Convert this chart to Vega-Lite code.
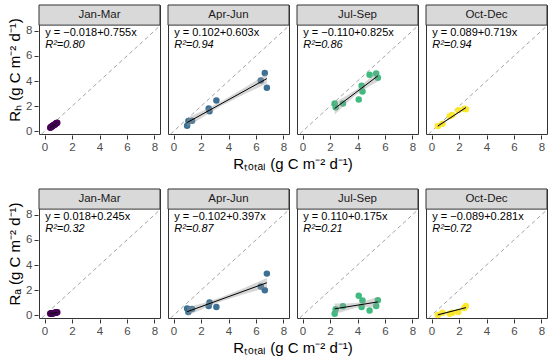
{
 "$schema": "https://vega.github.io/schema/vega-lite/v6.json",
 "padding": {"left": 7, "top": 4, "right": 2, "bottom": 0},
 "background": "white",
 "datasets": {"d": [
  {"r":"Rh","s":"Jan-Mar","k":"lab","eq":"y = −0.018+0.755x","r2":"R²=0.80"},
  {"r":"Rh","s":"Apr-Jun","k":"lab","eq":"y = 0.102+0.603x","r2":"R²=0.94"},
  {"r":"Rh","s":"Jul-Sep","k":"lab","eq":"y = −0.110+0.825x","r2":"R²=0.86"},
  {"r":"Rh","s":"Oct-Dec","k":"lab","eq":"y = 0.089+0.719x","r2":"R²=0.94"},
  {"r":"Ra","s":"Jan-Mar","k":"lab","eq":"y = 0.018+0.245x","r2":"R²=0.32"},
  {"r":"Ra","s":"Apr-Jun","k":"lab","eq":"y = −0.102+0.397x","r2":"R²=0.87"},
  {"r":"Ra","s":"Jul-Sep","k":"lab","eq":"y = 0.110+0.175x","r2":"R²=0.21"},
  {"r":"Ra","s":"Oct-Dec","k":"lab","eq":"y = −0.089+0.281x","r2":"R²=0.72"},

  {"r":"Rh","s":"Jan-Mar","k":"pt","x":0.42,"y":0.28},
  {"r":"Rh","s":"Jan-Mar","k":"pt","x":0.45,"y":0.33},
  {"r":"Rh","s":"Jan-Mar","k":"pt","x":0.48,"y":0.34},
  {"r":"Rh","s":"Jan-Mar","k":"pt","x":0.52,"y":0.38},
  {"r":"Rh","s":"Jan-Mar","k":"pt","x":0.55,"y":0.40},
  {"r":"Rh","s":"Jan-Mar","k":"pt","x":0.60,"y":0.44},
  {"r":"Rh","s":"Jan-Mar","k":"pt","x":0.64,"y":0.47},
  {"r":"Rh","s":"Jan-Mar","k":"pt","x":0.68,"y":0.50},
  {"r":"Rh","s":"Jan-Mar","k":"pt","x":0.72,"y":0.53},
  {"r":"Rh","s":"Jan-Mar","k":"pt","x":0.76,"y":0.55},
  {"r":"Rh","s":"Jan-Mar","k":"pt","x":0.80,"y":0.60},
  {"r":"Rh","s":"Jan-Mar","k":"pt","x":0.84,"y":0.62},
  {"r":"Rh","s":"Jan-Mar","k":"pt","x":0.88,"y":0.66},
  {"r":"Rh","s":"Jan-Mar","k":"pt","x":0.93,"y":0.69},
  {"r":"Ra","s":"Jan-Mar","k":"pt","x":0.42,"y":0.14},
  {"r":"Ra","s":"Jan-Mar","k":"pt","x":0.45,"y":0.12},
  {"r":"Ra","s":"Jan-Mar","k":"pt","x":0.48,"y":0.14},
  {"r":"Ra","s":"Jan-Mar","k":"pt","x":0.52,"y":0.14},
  {"r":"Ra","s":"Jan-Mar","k":"pt","x":0.55,"y":0.15},
  {"r":"Ra","s":"Jan-Mar","k":"pt","x":0.60,"y":0.16},
  {"r":"Ra","s":"Jan-Mar","k":"pt","x":0.64,"y":0.17},
  {"r":"Ra","s":"Jan-Mar","k":"pt","x":0.68,"y":0.18},
  {"r":"Ra","s":"Jan-Mar","k":"pt","x":0.72,"y":0.19},
  {"r":"Ra","s":"Jan-Mar","k":"pt","x":0.76,"y":0.21},
  {"r":"Ra","s":"Jan-Mar","k":"pt","x":0.80,"y":0.20},
  {"r":"Ra","s":"Jan-Mar","k":"pt","x":0.84,"y":0.22},
  {"r":"Ra","s":"Jan-Mar","k":"pt","x":0.88,"y":0.22},
  {"r":"Ra","s":"Jan-Mar","k":"pt","x":0.93,"y":0.24},

  {"r":"Rh","s":"Apr-Jun","k":"pt","x":0.99,"y":0.45},
  {"r":"Rh","s":"Apr-Jun","k":"pt","x":1.08,"y":0.82},
  {"r":"Rh","s":"Apr-Jun","k":"pt","x":1.35,"y":0.85},
  {"r":"Rh","s":"Apr-Jun","k":"pt","x":2.56,"y":1.81},
  {"r":"Rh","s":"Apr-Jun","k":"pt","x":2.62,"y":1.60},
  {"r":"Rh","s":"Apr-Jun","k":"pt","x":3.12,"y":2.45},
  {"r":"Rh","s":"Apr-Jun","k":"pt","x":6.35,"y":4.05},
  {"r":"Rh","s":"Apr-Jun","k":"pt","x":6.64,"y":4.64},
  {"r":"Rh","s":"Apr-Jun","k":"pt","x":6.79,"y":3.47},
  {"r":"Ra","s":"Apr-Jun","k":"pt","x":0.99,"y":0.54},
  {"r":"Ra","s":"Apr-Jun","k":"pt","x":1.08,"y":0.26},
  {"r":"Ra","s":"Apr-Jun","k":"pt","x":1.35,"y":0.50},
  {"r":"Ra","s":"Apr-Jun","k":"pt","x":2.56,"y":0.75},
  {"r":"Ra","s":"Apr-Jun","k":"pt","x":2.62,"y":1.02},
  {"r":"Ra","s":"Apr-Jun","k":"pt","x":3.12,"y":0.67},
  {"r":"Ra","s":"Apr-Jun","k":"pt","x":6.35,"y":2.30},
  {"r":"Ra","s":"Apr-Jun","k":"pt","x":6.64,"y":2.00},
  {"r":"Ra","s":"Apr-Jun","k":"pt","x":6.79,"y":3.32},

  {"r":"Rh","s":"Jul-Sep","k":"pt","x":2.34,"y":2.21},
  {"r":"Rh","s":"Jul-Sep","k":"pt","x":2.41,"y":1.92},
  {"r":"Rh","s":"Jul-Sep","k":"pt","x":2.94,"y":2.21},
  {"r":"Rh","s":"Jul-Sep","k":"pt","x":4.09,"y":2.53},
  {"r":"Rh","s":"Jul-Sep","k":"pt","x":4.30,"y":3.63},
  {"r":"Rh","s":"Jul-Sep","k":"pt","x":4.36,"y":3.17},
  {"r":"Rh","s":"Jul-Sep","k":"pt","x":4.88,"y":4.50},
  {"r":"Rh","s":"Jul-Sep","k":"pt","x":5.36,"y":4.61},
  {"r":"Rh","s":"Jul-Sep","k":"pt","x":5.48,"y":4.27},
  {"r":"Ra","s":"Jul-Sep","k":"pt","x":2.34,"y":0.13},
  {"r":"Ra","s":"Jul-Sep","k":"pt","x":2.41,"y":0.49},
  {"r":"Ra","s":"Jul-Sep","k":"pt","x":2.94,"y":0.73},
  {"r":"Ra","s":"Jul-Sep","k":"pt","x":4.09,"y":1.56},
  {"r":"Ra","s":"Jul-Sep","k":"pt","x":4.30,"y":0.67},
  {"r":"Ra","s":"Jul-Sep","k":"pt","x":4.36,"y":1.19},
  {"r":"Ra","s":"Jul-Sep","k":"pt","x":4.88,"y":0.38},
  {"r":"Ra","s":"Jul-Sep","k":"pt","x":5.36,"y":0.75},
  {"r":"Ra","s":"Jul-Sep","k":"pt","x":5.48,"y":1.21},

  {"r":"Rh","s":"Oct-Dec","k":"pt","x":0.46,"y":0.43},
  {"r":"Rh","s":"Oct-Dec","k":"pt","x":0.80,"y":0.60},
  {"r":"Rh","s":"Oct-Dec","k":"pt","x":1.33,"y":1.20},
  {"r":"Rh","s":"Oct-Dec","k":"pt","x":1.50,"y":1.30},
  {"r":"Rh","s":"Oct-Dec","k":"pt","x":1.95,"y":1.68},
  {"r":"Rh","s":"Oct-Dec","k":"pt","x":2.38,"y":1.79},
  {"r":"Rh","s":"Oct-Dec","k":"pt","x":2.50,"y":1.76},
  {"r":"Ra","s":"Oct-Dec","k":"pt","x":0.46,"y":0.03},
  {"r":"Ra","s":"Oct-Dec","k":"pt","x":0.80,"y":0.20},
  {"r":"Ra","s":"Oct-Dec","k":"pt","x":1.33,"y":0.13},
  {"r":"Ra","s":"Oct-Dec","k":"pt","x":1.50,"y":0.20},
  {"r":"Ra","s":"Oct-Dec","k":"pt","x":1.95,"y":0.27},
  {"r":"Ra","s":"Oct-Dec","k":"pt","x":2.38,"y":0.59},
  {"r":"Ra","s":"Oct-Dec","k":"pt","x":2.50,"y":0.74},

  {"r":"Rh","s":"Jan-Mar","k":"fit","x":0.42,"y":0.299},
  {"r":"Rh","s":"Jan-Mar","k":"fit","x":0.93,"y":0.684},
  {"r":"Rh","s":"Apr-Jun","k":"fit","x":0.99,"y":0.699},
  {"r":"Rh","s":"Apr-Jun","k":"fit","x":6.79,"y":4.196},
  {"r":"Rh","s":"Jul-Sep","k":"fit","x":2.34,"y":1.821},
  {"r":"Rh","s":"Jul-Sep","k":"fit","x":5.48,"y":4.411},
  {"r":"Rh","s":"Oct-Dec","k":"fit","x":0.46,"y":0.420},
  {"r":"Rh","s":"Oct-Dec","k":"fit","x":2.50,"y":1.887},
  {"r":"Ra","s":"Jan-Mar","k":"fit","x":0.42,"y":0.121},
  {"r":"Ra","s":"Jan-Mar","k":"fit","x":0.93,"y":0.246},
  {"r":"Ra","s":"Apr-Jun","k":"fit","x":0.99,"y":0.291},
  {"r":"Ra","s":"Apr-Jun","k":"fit","x":6.79,"y":2.594},
  {"r":"Ra","s":"Jul-Sep","k":"fit","x":2.34,"y":0.520},
  {"r":"Ra","s":"Jul-Sep","k":"fit","x":5.48,"y":1.069},
  {"r":"Ra","s":"Oct-Dec","k":"fit","x":0.46,"y":0.040},
  {"r":"Ra","s":"Oct-Dec","k":"fit","x":2.50,"y":0.614},

  {"r":"Rh","s":"Jan-Mar","k":"band","x":0.42,"lo":0.25,"hi":0.35},
  {"r":"Rh","s":"Jan-Mar","k":"band","x":0.68,"lo":0.47,"hi":0.52},
  {"r":"Rh","s":"Jan-Mar","k":"band","x":0.93,"lo":0.63,"hi":0.73},
  {"r":"Ra","s":"Jan-Mar","k":"band","x":0.42,"lo":0.09,"hi":0.15},
  {"r":"Ra","s":"Jan-Mar","k":"band","x":0.68,"lo":0.17,"hi":0.20},
  {"r":"Ra","s":"Jan-Mar","k":"band","x":0.93,"lo":0.22,"hi":0.28},
  {"r":"Rh","s":"Apr-Jun","k":"band","x":0.99,"lo":0.34,"hi":1.06},
  {"r":"Rh","s":"Apr-Jun","k":"band","x":2.2,"lo":1.19,"hi":1.67},
  {"r":"Rh","s":"Apr-Jun","k":"band","x":3.5,"lo":2.03,"hi":2.39},
  {"r":"Rh","s":"Apr-Jun","k":"band","x":5.1,"lo":2.93,"hi":3.43},
  {"r":"Rh","s":"Apr-Jun","k":"band","x":6.79,"lo":3.80,"hi":4.60},
  {"r":"Ra","s":"Apr-Jun","k":"band","x":0.99,"lo":-0.04,"hi":0.62},
  {"r":"Ra","s":"Apr-Jun","k":"band","x":2.2,"lo":0.55,"hi":0.99},
  {"r":"Ra","s":"Apr-Jun","k":"band","x":3.5,"lo":1.12,"hi":1.46},
  {"r":"Ra","s":"Apr-Jun","k":"band","x":5.1,"lo":1.68,"hi":2.16},
  {"r":"Ra","s":"Apr-Jun","k":"band","x":6.79,"lo":2.21,"hi":2.97},
  {"r":"Rh","s":"Jul-Sep","k":"band","x":2.34,"lo":1.34,"hi":2.30},
  {"r":"Rh","s":"Jul-Sep","k":"band","x":3.2,"lo":2.23,"hi":2.83},
  {"r":"Rh","s":"Jul-Sep","k":"band","x":4.0,"lo":2.99,"hi":3.39},
  {"r":"Rh","s":"Jul-Sep","k":"band","x":4.8,"lo":3.55,"hi":4.15},
  {"r":"Rh","s":"Jul-Sep","k":"band","x":5.48,"lo":3.96,"hi":4.86},
  {"r":"Ra","s":"Jul-Sep","k":"band","x":2.34,"lo":0.10,"hi":0.94},
  {"r":"Ra","s":"Jul-Sep","k":"band","x":3.2,"lo":0.39,"hi":0.95},
  {"r":"Ra","s":"Jul-Sep","k":"band","x":4.0,"lo":0.62,"hi":1.00},
  {"r":"Ra","s":"Jul-Sep","k":"band","x":4.8,"lo":0.67,"hi":1.23},
  {"r":"Ra","s":"Jul-Sep","k":"band","x":5.48,"lo":0.65,"hi":1.49},
  {"r":"Rh","s":"Oct-Dec","k":"band","x":0.46,"lo":0.30,"hi":0.54},
  {"r":"Rh","s":"Oct-Dec","k":"band","x":1.0,"lo":0.74,"hi":0.88},
  {"r":"Rh","s":"Oct-Dec","k":"band","x":1.5,"lo":1.12,"hi":1.22},
  {"r":"Rh","s":"Oct-Dec","k":"band","x":2.0,"lo":1.46,"hi":1.60},
  {"r":"Rh","s":"Oct-Dec","k":"band","x":2.5,"lo":1.77,"hi":2.01},
  {"r":"Ra","s":"Oct-Dec","k":"band","x":0.46,"lo":-0.06,"hi":0.14},
  {"r":"Ra","s":"Oct-Dec","k":"band","x":1.0,"lo":0.13,"hi":0.25},
  {"r":"Ra","s":"Oct-Dec","k":"band","x":1.5,"lo":0.29,"hi":0.38},
  {"r":"Ra","s":"Oct-Dec","k":"band","x":2.0,"lo":0.41,"hi":0.53},
  {"r":"Ra","s":"Oct-Dec","k":"band","x":2.5,"lo":0.51,"hi":0.71}
 ]},
 "vconcat": [
  {
   "data": {"name": "d"},
   "transform": [{"filter": "datum.r == 'Rh'"}],
   "facet": {"column": {"field": "s", "type": "nominal", "sort": ["Jan-Mar","Apr-Jun","Jul-Sep","Oct-Dec"], "title": "Rₜₒₜₐₗ (g C m⁻² d⁻¹)", "header": {"labels": false, "titleOrient": "bottom"}}},
   "spacing": 6,
   "spec": {
    "width": 121, "height": 129,
    "layer": [
     {"transform": [{"filter": "datum.k == 'lab'"}],
      "mark": {"type": "rect", "fill": "#d9d9d9", "stroke": "#333333", "strokeWidth": 1},
      "encoding": {
       "x": {"datum": -0.4, "type": "quantitative", "scale": {"domain": [-0.4, 8.4], "nice": false, "zero": false}, "axis": {"values": [0,2,4,6,8], "title": null, "labelOverlap": false}},
       "x2": {"datum": 8.4},
       "y": {"datum": 8.45, "type": "quantitative", "scale": {"domain": [-0.21, 10.05], "nice": false, "zero": false}, "axis": {"values": [0,2,4,6,8], "title": "Rₕ (g C m⁻² d⁻¹)", "labelOverlap": false}},
       "y2": {"datum": 10.05}}},
     {"transform": [{"filter": "datum.k == 'lab'"}],
      "mark": {"type": "text", "fontSize": 11.5, "color": "#1a1a1a", "baseline": "middle"},
      "encoding": {
       "x": {"datum": 4, "type": "quantitative", "axis": {"values": [0,2,4,6,8], "title": null, "labelOverlap": false}},
       "y": {"datum": 9.25, "type": "quantitative", "axis": {"values": [0,2,4,6,8], "title": "Rₕ (g C m⁻² d⁻¹)", "labelOverlap": false}},
       "text": {"field": "s"}}},
     {"transform": [{"filter": "datum.k == 'lab'"}],
      "mark": {"type": "rule", "color": "#999999", "strokeWidth": 0.9, "strokeDash": [4, 3]},
      "encoding": {
       "x": {"datum": -0.21, "type": "quantitative", "axis": {"values": [0,2,4,6,8], "title": null, "labelOverlap": false}},
       "y": {"datum": -0.21, "type": "quantitative", "axis": {"values": [0,2,4,6,8], "title": "Rₕ (g C m⁻² d⁻¹)", "labelOverlap": false}},
       "x2": {"datum": 8.4},
       "y2": {"datum": 8.4}}},
     {"transform": [{"filter": "datum.k == 'pt'"}],
      "mark": {"type": "circle", "size": 42, "opacity": 0.95},
      "encoding": {
       "x": {"field": "x", "type": "quantitative", "axis": {"values": [0,2,4,6,8], "title": null, "labelOverlap": false}},
       "y": {"field": "y", "type": "quantitative", "axis": {"values": [0,2,4,6,8], "title": "Rₕ (g C m⁻² d⁻¹)", "labelOverlap": false}},
       "color": {"field": "s", "type": "nominal", "legend": null, "scale": {"domain": ["Jan-Mar","Apr-Jun","Jul-Sep","Oct-Dec"], "range": ["#440154","#31688e","#35b779","#fde725"]}}}},
     {"transform": [{"filter": "datum.k == 'band'"}],
      "mark": {"type": "area", "color": "#999999", "opacity": 0.4},
      "encoding": {
       "x": {"field": "x", "type": "quantitative", "axis": {"values": [0,2,4,6,8], "title": null, "labelOverlap": false}},
       "y": {"field": "lo", "type": "quantitative", "axis": {"values": [0,2,4,6,8], "title": "Rₕ (g C m⁻² d⁻¹)", "labelOverlap": false}},
       "y2": {"field": "hi"}}},
     {"transform": [{"filter": "datum.k == 'fit'"}],
      "mark": {"type": "line", "color": "#000000", "strokeWidth": 1},
      "encoding": {
       "x": {"field": "x", "type": "quantitative", "axis": {"values": [0,2,4,6,8], "title": null, "labelOverlap": false}},
       "y": {"field": "y", "type": "quantitative", "axis": {"values": [0,2,4,6,8], "title": "Rₕ (g C m⁻² d⁻¹)", "labelOverlap": false}}}},
     {"transform": [{"filter": "datum.k == 'lab'"}],
      "mark": {"type": "text", "fontSize": 11, "color": "#000000", "align": "left", "baseline": "middle"},
      "encoding": {
       "x": {"datum": 0.05, "type": "quantitative", "axis": {"values": [0,2,4,6,8], "title": null, "labelOverlap": false}},
       "y": {"datum": 7.85, "type": "quantitative", "axis": {"values": [0,2,4,6,8], "title": "Rₕ (g C m⁻² d⁻¹)", "labelOverlap": false}},
       "text": {"field": "eq"}}},
     {"transform": [{"filter": "datum.k == 'lab'"}],
      "mark": {"type": "text", "fontSize": 11, "fontStyle": "italic", "color": "#000000", "align": "left", "baseline": "middle"},
      "encoding": {
       "x": {"datum": 0.05, "type": "quantitative", "axis": {"values": [0,2,4,6,8], "title": null, "labelOverlap": false}},
       "y": {"datum": 6.9, "type": "quantitative", "axis": {"values": [0,2,4,6,8], "title": "Rₕ (g C m⁻² d⁻¹)", "labelOverlap": false}},
       "text": {"field": "r2"}}}
    ]
   }
  },
  {
   "data": {"name": "d"},
   "transform": [{"filter": "datum.r == 'Ra'"}],
   "facet": {"column": {"field": "s", "type": "nominal", "sort": ["Jan-Mar","Apr-Jun","Jul-Sep","Oct-Dec"], "title": "Rₜₒₜₐₗ (g C m⁻² d⁻¹)", "header": {"labels": false, "titleOrient": "bottom"}}},
   "spacing": 6,
   "spec": {
    "width": 121, "height": 129,
    "layer": [
     {"transform": [{"filter": "datum.k == 'lab'"}],
      "mark": {"type": "rect", "fill": "#d9d9d9", "stroke": "#333333", "strokeWidth": 1},
      "encoding": {
       "x": {"datum": -0.4, "type": "quantitative", "scale": {"domain": [-0.4, 8.4], "nice": false, "zero": false}, "axis": {"values": [0,2,4,6,8], "title": null, "labelOverlap": false}},
       "x2": {"datum": 8.4},
       "y": {"datum": 8.45, "type": "quantitative", "scale": {"domain": [-0.21, 10.05], "nice": false, "zero": false}, "axis": {"values": [0,2,4,6,8], "title": "Rₐ (g C m⁻² d⁻¹)", "labelOverlap": false}},
       "y2": {"datum": 10.05}}},
     {"transform": [{"filter": "datum.k == 'lab'"}],
      "mark": {"type": "text", "fontSize": 11.5, "color": "#1a1a1a", "baseline": "middle"},
      "encoding": {
       "x": {"datum": 4, "type": "quantitative", "axis": {"values": [0,2,4,6,8], "title": null, "labelOverlap": false}},
       "y": {"datum": 9.25, "type": "quantitative", "axis": {"values": [0,2,4,6,8], "title": "Rₐ (g C m⁻² d⁻¹)", "labelOverlap": false}},
       "text": {"field": "s"}}},
     {"transform": [{"filter": "datum.k == 'lab'"}],
      "mark": {"type": "rule", "color": "#999999", "strokeWidth": 0.9, "strokeDash": [4, 3]},
      "encoding": {
       "x": {"datum": -0.21, "type": "quantitative", "axis": {"values": [0,2,4,6,8], "title": null, "labelOverlap": false}},
       "y": {"datum": -0.21, "type": "quantitative", "axis": {"values": [0,2,4,6,8], "title": "Rₐ (g C m⁻² d⁻¹)", "labelOverlap": false}},
       "x2": {"datum": 8.4},
       "y2": {"datum": 8.4}}},
     {"transform": [{"filter": "datum.k == 'pt'"}],
      "mark": {"type": "circle", "size": 42, "opacity": 0.95},
      "encoding": {
       "x": {"field": "x", "type": "quantitative", "axis": {"values": [0,2,4,6,8], "title": null, "labelOverlap": false}},
       "y": {"field": "y", "type": "quantitative", "axis": {"values": [0,2,4,6,8], "title": "Rₐ (g C m⁻² d⁻¹)", "labelOverlap": false}},
       "color": {"field": "s", "type": "nominal", "legend": null, "scale": {"domain": ["Jan-Mar","Apr-Jun","Jul-Sep","Oct-Dec"], "range": ["#440154","#31688e","#35b779","#fde725"]}}}},
     {"transform": [{"filter": "datum.k == 'band'"}],
      "mark": {"type": "area", "color": "#999999", "opacity": 0.4},
      "encoding": {
       "x": {"field": "x", "type": "quantitative", "axis": {"values": [0,2,4,6,8], "title": null, "labelOverlap": false}},
       "y": {"field": "lo", "type": "quantitative", "axis": {"values": [0,2,4,6,8], "title": "Rₐ (g C m⁻² d⁻¹)", "labelOverlap": false}},
       "y2": {"field": "hi"}}},
     {"transform": [{"filter": "datum.k == 'fit'"}],
      "mark": {"type": "line", "color": "#000000", "strokeWidth": 1},
      "encoding": {
       "x": {"field": "x", "type": "quantitative", "axis": {"values": [0,2,4,6,8], "title": null, "labelOverlap": false}},
       "y": {"field": "y", "type": "quantitative", "axis": {"values": [0,2,4,6,8], "title": "Rₐ (g C m⁻² d⁻¹)", "labelOverlap": false}}}},
     {"transform": [{"filter": "datum.k == 'lab'"}],
      "mark": {"type": "text", "fontSize": 11, "color": "#000000", "align": "left", "baseline": "middle"},
      "encoding": {
       "x": {"datum": 0.05, "type": "quantitative", "axis": {"values": [0,2,4,6,8], "title": null, "labelOverlap": false}},
       "y": {"datum": 7.85, "type": "quantitative", "axis": {"values": [0,2,4,6,8], "title": "Rₐ (g C m⁻² d⁻¹)", "labelOverlap": false}},
       "text": {"field": "eq"}}},
     {"transform": [{"filter": "datum.k == 'lab'"}],
      "mark": {"type": "text", "fontSize": 11, "fontStyle": "italic", "color": "#000000", "align": "left", "baseline": "middle"},
      "encoding": {
       "x": {"datum": 0.05, "type": "quantitative", "axis": {"values": [0,2,4,6,8], "title": null, "labelOverlap": false}},
       "y": {"datum": 6.9, "type": "quantitative", "axis": {"values": [0,2,4,6,8], "title": "Rₐ (g C m⁻² d⁻¹)", "labelOverlap": false}},
       "text": {"field": "r2"}}}
    ]
   }
  }
 ],
 "spacing": 16,
 "config": {
  "font": "Liberation Sans",
  "view": {"stroke": "#333333", "strokeWidth": 1},
  "axis": {"grid": false, "domain": false, "tickColor": "#333333", "tickSize": 4, "labelColor": "#4d4d4d", "labelFontSize": 11.5, "labelFont": "Liberation Sans", "labelPadding": 2, "labelOverlap": false, "labelBound": false, "labelFlush": false, "titleFont": "Liberation Sans", "titleFontWeight": "normal", "titleFontSize": 15, "titleColor": "#000000", "titlePadding": 3},
  "header": {"titleFont": "Liberation Sans", "titleFontSize": 15, "titleFontWeight": "normal", "titleColor": "#000000", "titlePadding": -6}
 }
}
